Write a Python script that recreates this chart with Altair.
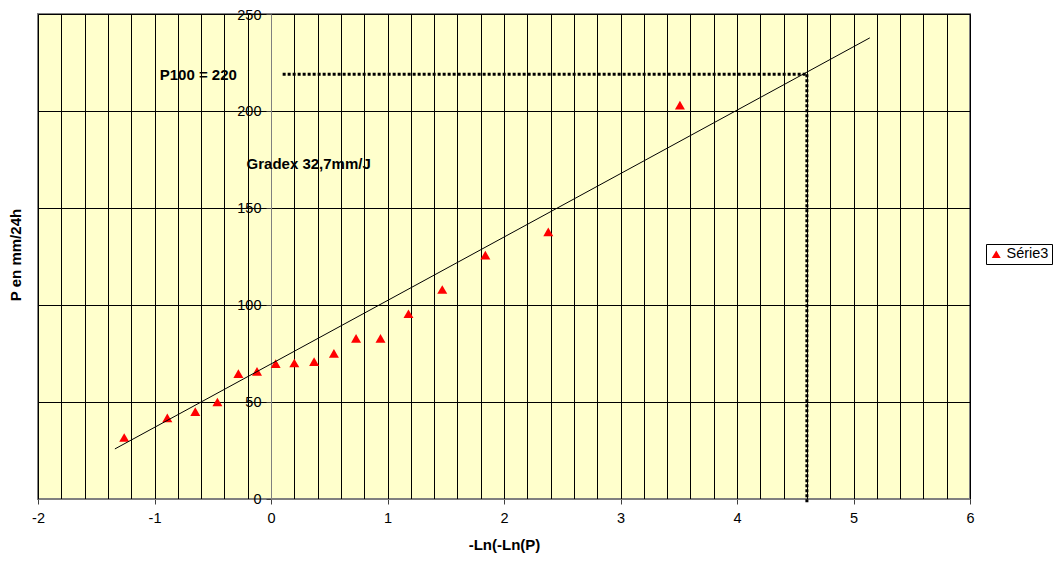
import altair as alt
import pandas as pd

FONT = "Liberation Sans"

# --- data ---
x_vals = [-1.26, -0.89, -0.65, -0.46, -0.28, -0.12, 0.04, 0.20, 0.37,
          0.54, 0.73, 0.94, 1.18, 1.47, 1.84, 2.38, 3.51]
p_vals = [31.7, 41.8, 45.0, 50.0, 64.6, 65.8, 69.8, 70.1, 70.8,
          75.1, 82.8, 82.8, 95.5, 108.0, 125.7, 137.7, 203.0]
series_name = "Série3"

# Gumbel adjustment line (Gradex 32,7 mm/J)
fit_x = [-1.34, 5.14]
fit_y = [25.8, 237.7]

# P100 read-off lines
p100_h_x = [0.1]
p100_h_x2 = [4.6]
p100_h_y = [219.0]
p100_v_x = [4.6]
p100_v_y = [219.0]
p100_v_y2 = [-2.5]

# annotations
ann_text = ["P100 = 220", "Gradex 32,7mm/J"]
ann_x = [-0.955, -0.21]
ann_y = [218.7, 172.6]

# axes
x_grid = [-2.0, -1.8, -1.6, -1.4, -1.2, -1.0, -0.8, -0.6, -0.4, -0.2,
          0.0, 0.2, 0.4, 0.6, 0.8, 1.0, 1.2, 1.4, 1.6, 1.8,
          2.0, 2.2, 2.4, 2.6, 2.8, 3.0, 3.2, 3.4, 3.6, 3.8,
          4.0, 4.2, 4.4, 4.6, 4.8, 5.0, 5.2, 5.4, 5.6, 5.8, 6.0]
y_ticks = [0, 50, 100, 150, 200, 250]
x_domain = [-2, 6]
y_domain = [0, 250]

W, H = 932, 485
xs = alt.Scale(domain=x_domain, nice=False, zero=False)
ys = alt.Scale(domain=y_domain, nice=False, zero=False)

is_int = "abs(datum.value - round(datum.value)) < 0.001"
xaxis = alt.Axis(
    values=x_grid, grid=True, gridColor="#000000", gridWidth=1, gridOpacity=1,
    domainColor="#808080", domainWidth=1,
    tickColor="#404040", tickSize=5, tickWidth=1,
    tickOpacity={"condition": {"test": is_int, "value": 1}, "value": 0},
    labelExpr=is_int + " ? ('' + round(datum.value)) : ''",
    labelFlush=False, labelOverlap=False, labelFontSize=14.5, labelColor="#000000",
    labelFont=FONT, labelPadding=7,
    title="-Ln(-Ln(P)", titleFontSize=15, titleFontWeight="bold", titleFont=FONT,
    titleColor="#000000", titlePadding=13,
)
yaxis = alt.Axis(
    values=y_ticks, offset=-2 * W / 8, grid=True, gridColor="#000000", gridWidth=1,
    gridOpacity=1, domainColor="#808080", domainWidth=1,
    tickColor="#404040", tickSize=5, tickWidth=1,
    labelFontSize=14.5, labelColor="#000000", labelFont=FONT, labelPadding=5,
    labelOffset={"condition": {"test": "datum.value == 250", "value": 1.5}, "value": 0},
    labelFlush=False, labelOverlap=False, title=None,
)


def X(field):
    return alt.X(field, type="quantitative", scale=xs, axis=xaxis)


def Y(field):
    return alt.Y(field, type="quantitative", scale=ys, axis=yaxis)


pts_df = pd.DataFrame({"x": x_vals, "y": p_vals, "s": [series_name] * len(x_vals)})
points = alt.Chart(pts_df).mark_point(filled=True, size=100, opacity=1, color="#FF0000").encode(
    x=X("x"), y=Y("y"),
    shape=alt.Shape("s:N", scale=alt.Scale(range=["triangle-up"]), legend=alt.Legend(
        title=None, orient="none", legendX=948, legendY=230, padding=3,
        strokeColor="#000000", fillColor="#FFFFFF", labelFontSize=14.5, labelFont=FONT,
        labelColor="#000000", symbolSize=80, symbolFillColor="#FF0000",
        symbolStrokeWidth=0, symbolType="triangle-up", labelOffset=3,
    )),
)

fit_df = pd.DataFrame({"x": fit_x, "y": fit_y})
fit = alt.Chart(fit_df).mark_line(color="#000000", strokeWidth=1).encode(x=X("x"), y=Y("y"))

h_df = pd.DataFrame({"x": p100_h_x, "x2": p100_h_x2, "y": p100_h_y})
hline = alt.Chart(h_df).mark_rule(color="#000000", strokeWidth=3, strokeDash=[3, 2]).encode(
    x=X("x"), x2="x2:Q", y=Y("y"))
v_df = pd.DataFrame({"x": p100_v_x, "y": p100_v_y, "y2": p100_v_y2})
vline = alt.Chart(v_df).mark_rule(color="#000000", strokeWidth=3, strokeDash=[3, 2]).encode(
    x=X("x"), y=Y("y"), y2="y2:Q")

ann_df = pd.DataFrame({"x": ann_x, "y": ann_y, "t": ann_text})
ann = alt.Chart(ann_df).mark_text(
    align="left", baseline="middle", fontSize=15, fontWeight="bold", font=FONT, color="#000000"
).encode(x=X("x"), y=Y("y"), text="t:N")

ytitle_df = pd.DataFrame({"t": ["P en mm/24h"]})
ytitle = alt.Chart(ytitle_df).mark_text(
    angle=270, align="center", baseline="middle", fontSize=15, fontWeight="bold",
    font=FONT, color="#000000"
).encode(x=alt.value(-22), y=alt.value(241), text="t:N")

chart = alt.layer(points, fit, hline, vline, ann, ytitle).properties(
    width=W, height=H,
    autosize=alt.AutoSizeParams(type="none"),
    padding={"left": 30, "top": 6, "right": 83, "bottom": 54},
    background="#FFFFFF",
).configure_view(fill="#FFFFCC", stroke="#808080", strokeWidth=2)

chart.save("out.html", embed_options={"renderer": "svg", "actions": False})
